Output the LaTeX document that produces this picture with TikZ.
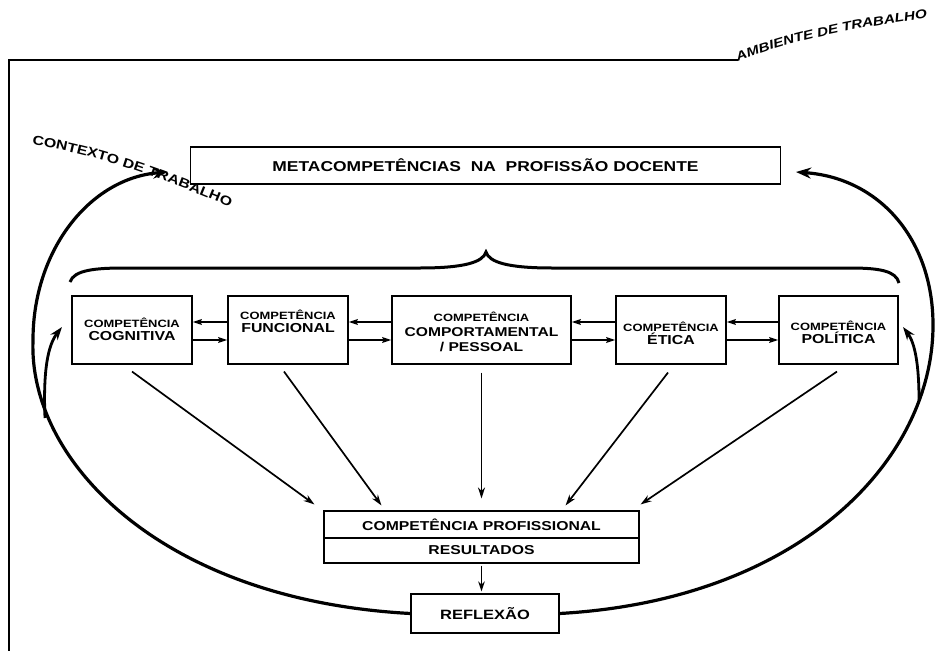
\documentclass[tikz,border=0pt]{standalone}
\usepackage{fontspec}
\newfontfamily\arb{Liberation Sans}[FakeStretch=1.22]
\usetikzlibrary{arrows.meta,decorations.text}
\newcommand\myfs[1]{\fontsize{#1}{#1}\selectfont}
\begin{document}
\begin{tikzpicture}[x=1pt,y=-1pt,
  box/.style={draw,line width=1.1pt,inner sep=0pt},
  txt/.style={inner sep=0pt,align=center,font=\arb\bfseries\fontsize{13}{13}\selectfont},
  bigarc/.style={line width=3.2pt,-{Stealth[length=15pt,width=11pt]}},
  branch/.style={line width=2.8pt,-{Stealth[length=13pt,width=9pt]}},
  diag/.style={line width=1.7pt,-{Stealth[length=11pt,width=7pt]}},
  harr/.style={line width=2.4pt,-{Stealth[length=9pt,width=5.5pt,inset=1pt]}},
  frame/.style={line width=2.8pt}]
\useasboundingbox (0,0) rectangle (941,650);

% frame
\coordinate (f1) at (9,652);
\coordinate (f2) at (9,60);
\coordinate (f3) at (738,60);
\draw[frame] (f1) -- (f2) -- (f3);

% boxes
\node[box,minimum width=590pt,minimum height=37pt] (meta) at (485.5,165.5) {};
\node[txt,font=\arb\bfseries\myfs{14.3}] (tmeta) at (meta.center) {METACOMPETÊNCIAS~~NA~~PROFISSÃO DOCENTE};

\node[box,minimum width=120pt,minimum height=68pt] (cog) at (132,330) {};
\node[box,minimum width=120pt,minimum height=68pt] (fun) at (288,330) {};
\node[box,minimum width=179pt,minimum height=68pt] (com) at (481.5,330) {};
\node[box,minimum width=110pt,minimum height=68pt] (eti) at (671,330) {};
\node[box,minimum width=119pt,minimum height=68pt] (pol) at (838.5,330) {};

\node[txt] (tcog) at (132,329) {{\fontsize{10.6}{13}\selectfont COMPETÊNCIA}\\COGNITIVA};
\node[txt] (tfun) at (288,321) {{\fontsize{10.6}{14}\selectfont COMPETÊNCIA}\\FUNCIONAL};
\node[txt,font=\arb\bfseries\fontsize{12.8}{15}\selectfont] (tcom) at (481.5,332) {{\fontsize{10.6}{15}\selectfont COMPETÊNCIA}\\COMPORTAMENTAL\\/ PESSOAL};
\node[txt] (teti) at (671,333) {{\fontsize{10.6}{13}\selectfont COMPETÊNCIA}\\ÉTICA};
\node[txt] (tpol) at (838.5,332.5) {{\fontsize{10.6}{14}\selectfont COMPETÊNCIA}\\POLÍTICA};

\node[box,minimum width=315pt,minimum height=27pt] (prof) at (481.5,524.5) {};
\node[box,minimum width=315pt,minimum height=25pt] (res) at (481.5,550.5) {};
\node[txt,font=\arb\bfseries\myfs{12.9}] (tprof) at (prof.center) {COMPETÊNCIA PROFISSIONAL};
\node[txt,font=\arb\bfseries\myfs{12.9}] (tres) at (res.center) {RESULTADOS};

\node[box,minimum width=148pt,minimum height=39pt] (refl) at (485,613.5) {};
\node[txt,font=\arb\bfseries\myfs{13.5}] (trefl) at (refl.center) {REFLEXÃO};

% horizontal arrows
\foreach \a/\b in {cog/fun,fun/com,com/eti,eti/pol}{
  \draw[harr] ([yshift=8pt]\b.west) -- ([yshift=8pt]\a.east);
  \draw[harr] ([yshift=-10pt]\a.east) -- ([yshift=-10pt]\b.west);
}

% diagonal arrows
\draw[diag] ([yshift=-7pt]cog.south) -- ([xshift=-9pt,yshift=6pt]prof.north west);
\draw[diag] ([xshift=-4pt,yshift=-7pt]fun.south) -- ([xshift=58pt,yshift=5pt]prof.north west);
\draw[diag] ([yshift=-8pt]com.south) -- ([yshift=12pt]prof.north);
\draw[diag] ([xshift=-3pt,yshift=-8pt]eti.south) -- ([xshift=-74pt,yshift=5pt]prof.north east);
\draw[diag] ([xshift=-1.5pt,yshift=-7pt]pol.south) -- ([xshift=1pt,yshift=6pt]prof.north east);

% results -> reflexao
\draw[line width=1.7pt,-{Stealth[length=10pt,width=6.5pt]}] ([yshift=-2pt]res.south) -- ([yshift=2pt]res.south |- refl.north);

% brace
\coordinate (bl) at (70,282);
\coordinate (br) at (899,283);
\coordinate (bt) at (486,252);
\draw[line width=3pt] (bl) .. controls (74,270) and (95,268) .. (125,268) -- (420,268)
  .. controls (465,268) and (483,262) .. (bt)
  .. controls (489,262) and (507,268) .. (552,268) -- (850,268)
  .. controls (880,268) and (896,271) .. (br);

% big arcs
\coordinate (ml) at (168,172);
\coordinate (mr) at (796,172);
\coordinate (lmid) at (33,340);
\coordinate (rmid) at (933,325);
\draw[bigarc] (refl.west) .. controls (160,600) and (28,460) .. (lmid)
  .. controls (33,250) and (90,178) .. (ml);
\draw[bigarc] (refl.east) .. controls (800,600) and (933,460) .. (rmid)
  .. controls (933,240) and (880,178) .. (mr);

% branch arrows
\coordinate (lb) at (45,418);
\coordinate (lt) at (62,327);
\coordinate (rb) at (919,400);
\coordinate (rt) at (903,327);
\draw[branch] (lb) .. controls (43,370) and (48,345) .. (lt);
\draw[branch] (rb) .. controls (919,365) and (915,343) .. (rt);

% curved labels
\path[decorate,decoration={text along path,text align={left},
  text={|\arb\bfseries\myfs{13}|CONTEXTO DE TRABALHO}}]
  (32,145) .. controls (90,153) and (160,176) .. (250,216);
\path[decorate,decoration={text along path,text align={left},
  text={|\arb\bfseries\itshape\myfs{12.5}|AMBIENTE DE TRABALHO}}]
  (738,62) .. controls (785,42) and (850,28) .. (941,16);
\end{tikzpicture}
\end{document}
